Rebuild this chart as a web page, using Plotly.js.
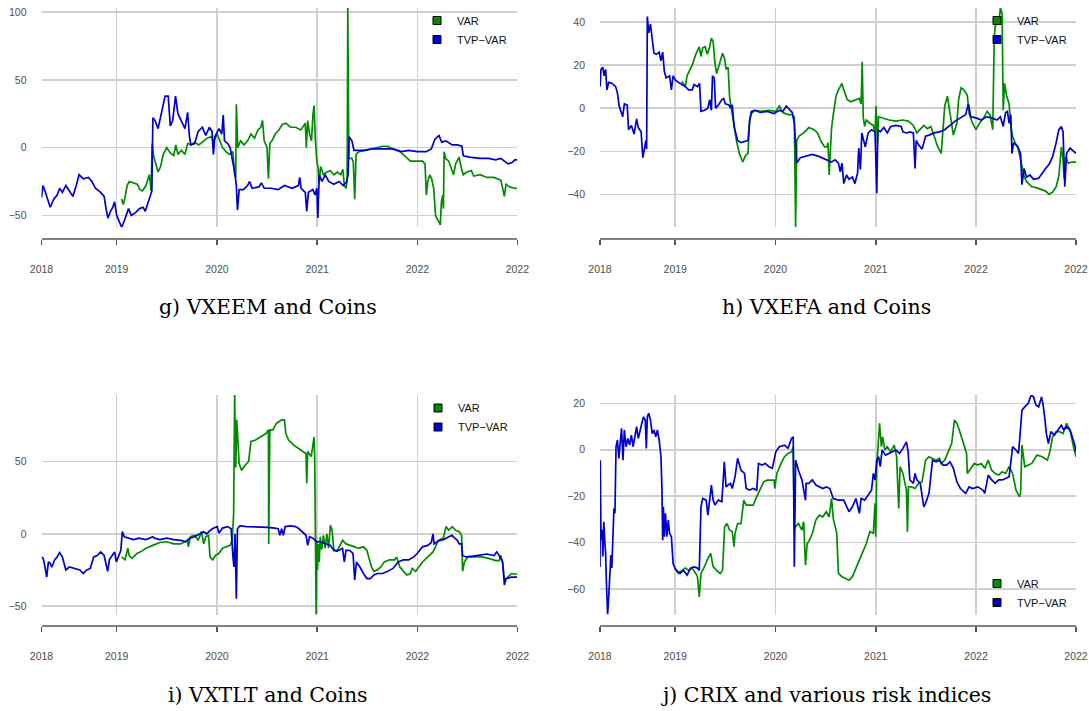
<!DOCTYPE html>
<html><head><meta charset="utf-8">
<script src="https://cdn.plot.ly/plotly-3.0.1.min.js"></script>
<style>html,body{margin:0;padding:0;background:#fff}#chart{width:1089px;height:711px}</style>
</head><body><div id="chart"></div>
<script>
// ---- tick labels / names ----
const xTickYears = [2019, 2020, 2021, 2022];
const xTickLabels = ['2018', '2019', '2020', '2021', '2022', '2022'];
const seriesNames = ['VAR', 'TVP\u2212VAR'];
const captions = ['g) VXEEM and Coins', 'h) VXEFA and Coins', 'i) VXTLT and Coins', 'j) CRIX and various risk indices'];

// ---- data: [decimal year, value] ----
const gTvp = [[2018.250,-37],[2018.264,-28],[2018.285,-32],[2018.313,-38],[2018.337,-44],[2018.372,-38],[2018.406,-35],[2018.431,-30],[2018.458,-33],[2018.493,-28],[2018.528,-32],[2018.563,-36],[2018.597,-28],[2018.625,-20],[2018.667,-23],[2018.719,-22],[2018.753,-25],[2018.788,-30],[2018.840,-33],[2018.875,-36],[2018.896,-46],[2018.913,-52],[2018.938,-47],[2018.962,-44],[2018.979,-40],[2019.000,-50],[2019.028,-55],[2019.049,-58.8],[2019.076,-54],[2019.097,-49],[2019.118,-45],[2019.146,-50],[2019.188,-48],[2019.229,-45],[2019.264,-44],[2019.285,-47],[2019.313,-40],[2019.333,-35],[2019.351,-32],[2019.361,22],[2019.382,20],[2019.413,14],[2019.448,25],[2019.483,38],[2019.514,38],[2019.535,16],[2019.559,20],[2019.587,38],[2019.611,25],[2019.646,20],[2019.681,14],[2019.708,26],[2019.726,8],[2019.740,2],[2019.778,3],[2019.813,12],[2019.854,15],[2019.889,9],[2019.924,15],[2019.951,12],[2019.965,-5],[2019.979,8],[2020.021,14],[2020.049,10],[2020.063,24],[2020.076,5],[2020.108,3],[2020.132,0],[2020.153,-8],[2020.177,-18],[2020.194,-28],[2020.205,-46],[2020.222,-31],[2020.264,-31],[2020.306,-28],[2020.326,-25],[2020.351,-30],[2020.420,-29],[2020.444,-26],[2020.472,-30],[2020.542,-30],[2020.611,-31],[2020.674,-28],[2020.750,-30],[2020.813,-28],[2020.826,-22],[2020.840,-30],[2020.882,-33],[2020.896,-47],[2020.913,-33],[2020.958,-31],[2020.979,-35],[2020.997,-30],[2021.007,-52],[2021.021,-20],[2021.049,-25],[2021.080,-20],[2021.115,-25],[2021.167,-27],[2021.219,-25],[2021.260,-28],[2021.295,-25],[2021.309,-20],[2021.319,8],[2021.347,5],[2021.368,-2],[2021.392,-2],[2021.462,-2],[2021.549,-1],[2021.653,-1],[2021.757,-1],[2021.844,-3],[2021.913,-2],[2022.000,-3],[2022.087,-3],[2022.139,-1],[2022.174,6],[2022.215,9],[2022.243,4],[2022.285,5],[2022.347,2],[2022.399,2],[2022.444,1],[2022.458,-6],[2022.521,-7],[2022.625,-8],[2022.712,-8],[2022.781,-9],[2022.833,-8],[2022.868,-10],[2022.903,-12],[2022.944,-11],[2022.972,-9],[2022.997,-9]];

const gVar = [[2019.049,-38],[2019.066,-42],[2019.083,-37],[2019.104,-28],[2019.125,-25],[2019.170,-26],[2019.205,-27],[2019.233,-31],[2019.257,-32],[2019.292,-28],[2019.326,-20],[2019.344,-32],[2019.354,3],[2019.368,-6],[2019.389,-12],[2019.413,-18],[2019.438,-14],[2019.465,-5],[2019.500,0],[2019.535,-4],[2019.569,-6],[2019.590,2],[2019.611,-5],[2019.646,-2],[2019.681,-5],[2019.708,3],[2019.743,2],[2019.778,4],[2019.819,2],[2019.865,5],[2019.903,7],[2019.938,8],[2019.969,5],[2020.003,10],[2020.028,5],[2020.056,0],[2020.090,-3],[2020.125,-5],[2020.160,-3],[2020.177,-20],[2020.188,-22],[2020.194,32],[2020.208,0],[2020.236,5],[2020.271,2],[2020.306,5],[2020.340,10],[2020.375,7],[2020.410,13],[2020.438,15],[2020.455,20],[2020.472,5],[2020.500,0],[2020.514,-23],[2020.528,3],[2020.549,5],[2020.583,10],[2020.618,13],[2020.653,17],[2020.688,18],[2020.736,15],[2020.785,15],[2020.837,13],[2020.882,18],[2020.892,0],[2020.906,20],[2020.924,10],[2020.944,5],[2020.958,24],[2020.969,31],[2020.983,5],[2020.997,-10],[2021.010,-15],[2021.021,-26],[2021.035,-14],[2021.063,-20],[2021.097,-18],[2021.132,-17],[2021.167,-20],[2021.201,-18],[2021.236,-20],[2021.257,-16],[2021.271,-28],[2021.288,-30],[2021.299,-25],[2021.306,103],[2021.316,-8],[2021.347,-8],[2021.361,-11],[2021.375,-38],[2021.389,-5],[2021.417,-3],[2021.479,-2],[2021.583,0],[2021.653,1],[2021.705,1],[2021.757,-1],[2021.826,-3],[2021.868,-6],[2021.931,-10],[2022.000,-10],[2022.052,-10],[2022.076,-12],[2022.090,-35],[2022.104,-25],[2022.125,-20],[2022.142,-23],[2022.163,-30],[2022.181,-50],[2022.205,-54],[2022.229,-57],[2022.240,-40],[2022.253,-35],[2022.260,-45],[2022.267,-3],[2022.281,-8],[2022.313,-10],[2022.337,-15],[2022.361,-20],[2022.382,-12],[2022.417,-7],[2022.438,-15],[2022.458,-20],[2022.493,-18],[2022.538,-17],[2022.563,-21],[2022.625,-20],[2022.694,-22],[2022.764,-22],[2022.833,-24],[2022.851,-30],[2022.868,-36],[2022.885,-27],[2022.920,-29],[2022.972,-30],[2022.997,-30]];

const hTvp = [[2018.250,10],[2018.260,18],[2018.278,19],[2018.292,15],[2018.306,18],[2018.319,8.5],[2018.337,12],[2018.372,11.5],[2018.406,10],[2018.424,7],[2018.441,1],[2018.458,-1],[2018.476,-4],[2018.493,2],[2018.521,1.5],[2018.535,-10],[2018.563,-8],[2018.590,-12],[2018.615,-5],[2018.632,-9],[2018.660,-11],[2018.677,-23],[2018.694,-18],[2018.708,-15],[2018.715,-19],[2018.722,42.5],[2018.736,35],[2018.753,39],[2018.771,32],[2018.788,25.5],[2018.813,25],[2018.840,26],[2018.858,22],[2018.875,26],[2018.892,17],[2018.910,14],[2018.944,15],[2018.962,8.5],[2018.979,15],[2019.003,13],[2019.031,12],[2019.066,11],[2019.101,10],[2019.135,8.5],[2019.170,8.5],[2019.188,11],[2019.222,10],[2019.243,11.5],[2019.257,-1.5],[2019.292,-1],[2019.326,0],[2019.344,4],[2019.361,-1],[2019.372,15],[2019.389,14],[2019.403,0],[2019.431,1.5],[2019.465,4],[2019.483,4.5],[2019.500,2],[2019.535,1.5],[2019.552,0],[2019.569,1.5],[2019.587,-8.5],[2019.604,-11.5],[2019.622,-15],[2019.656,-16],[2019.691,-15.5],[2019.726,-15],[2019.743,-5.5],[2019.760,-1.5],[2019.795,-1],[2019.847,-2],[2019.917,-1.5],[2019.986,-2.5],[2020.038,-1],[2020.073,-1.5],[2020.108,1],[2020.142,-1],[2020.167,-2],[2020.188,-7],[2020.212,-25.5],[2020.247,-23],[2020.299,-22.5],[2020.368,-21.5],[2020.438,-22.5],[2020.507,-24],[2020.559,-25],[2020.594,-24],[2020.628,-25.5],[2020.646,-29.5],[2020.663,-25.5],[2020.681,-35],[2020.708,-31],[2020.733,-33],[2020.767,-32],[2020.792,-35],[2020.819,-30],[2020.830,-18.5],[2020.847,-28.5],[2020.861,-11.5],[2020.878,-15],[2020.896,-18],[2020.924,-11.5],[2020.958,-10],[2020.993,-11],[2021.010,-39.5],[2021.021,-10],[2021.045,-11],[2021.080,-9],[2021.115,-11.5],[2021.149,-8.5],[2021.201,-8],[2021.253,-8.5],[2021.271,-11],[2021.306,-11.5],[2021.340,-11],[2021.375,-11.5],[2021.392,-28],[2021.403,-15],[2021.427,-17],[2021.462,-19],[2021.497,-13],[2021.531,-12.5],[2021.583,-11.5],[2021.635,-11],[2021.688,-10],[2021.740,-8],[2021.792,-6],[2021.844,-4.5],[2021.896,-3],[2021.924,2],[2021.948,-4],[2022.000,-4.5],[2022.052,-5.5],[2022.104,-4],[2022.156,-4.5],[2022.208,-5.5],[2022.243,-4],[2022.271,-8.5],[2022.295,-2],[2022.313,-1.5],[2022.330,-7],[2022.347,-3],[2022.358,-21],[2022.375,-16],[2022.417,-18],[2022.444,-21],[2022.458,-35.5],[2022.479,-28],[2022.503,-32],[2022.538,-31],[2022.573,-33],[2022.625,-32.5],[2022.660,-30],[2022.694,-28],[2022.729,-26],[2022.764,-22.5],[2022.799,-16],[2022.826,-10],[2022.851,-8.5],[2022.868,-11],[2022.885,-36.5],[2022.903,-21],[2022.938,-18.5],[2022.972,-20],[2022.997,-21]];

const hVar = [[2019.066,12.5],[2019.083,11],[2019.101,10],[2019.118,15],[2019.146,18],[2019.170,20],[2019.205,25],[2019.240,28.5],[2019.257,24],[2019.274,28],[2019.299,28.5],[2019.319,25],[2019.344,28.5],[2019.361,32.5],[2019.378,31],[2019.396,21],[2019.413,16],[2019.448,21],[2019.472,25.5],[2019.493,23],[2019.507,18],[2019.528,19],[2019.542,5.5],[2019.563,-1],[2019.587,-8.5],[2019.611,-15],[2019.639,-21],[2019.674,-25],[2019.701,-22],[2019.726,-21],[2019.743,-5.5],[2019.760,-2.5],[2019.795,-1],[2019.865,-1.5],[2019.934,-1],[2020.003,-1.5],[2020.038,1],[2020.073,-2],[2020.125,-3],[2020.167,-3],[2020.188,-4],[2020.201,-55.3],[2020.212,-15],[2020.236,-13],[2020.281,-11.5],[2020.333,-9],[2020.385,-10],[2020.420,-11.5],[2020.455,-15.5],[2020.490,-18],[2020.514,-18],[2020.524,-16],[2020.535,-31],[2020.549,-13],[2020.559,-9.5],[2020.576,-3],[2020.604,5.5],[2020.628,8.5],[2020.663,11.5],[2020.681,8.5],[2020.715,4],[2020.750,3],[2020.802,4],[2020.837,4.5],[2020.854,2],[2020.865,21.5],[2020.875,-4],[2020.889,-8.5],[2020.906,-5.5],[2020.941,-7],[2020.976,-8],[2020.993,-11.5],[2021.003,1],[2021.017,-16],[2021.028,-4],[2021.063,-4.5],[2021.132,-5.5],[2021.201,-6],[2021.271,-5.5],[2021.323,-6],[2021.375,-8],[2021.410,-11.5],[2021.444,-10],[2021.479,-8],[2021.514,-9.5],[2021.549,-8.5],[2021.583,-13],[2021.618,-18],[2021.653,-21],[2021.670,-10],[2021.688,1],[2021.715,5.5],[2021.740,-1.5],[2021.757,-7],[2021.774,-12.5],[2021.809,-7],[2021.826,4],[2021.851,9.5],[2021.878,8.5],[2021.913,6],[2021.931,-2.5],[2021.965,-7],[2022.000,-10],[2022.035,-7],[2022.076,-4.5],[2022.111,-1.5],[2022.139,-3],[2022.167,-10],[2022.181,32],[2022.191,38],[2022.208,39.5],[2022.229,40],[2022.243,46.5],[2022.260,44],[2022.271,-1],[2022.285,11.5],[2022.306,5.5],[2022.330,2],[2022.347,-8.5],[2022.365,-13],[2022.389,-16],[2022.417,-18],[2022.451,-25.5],[2022.479,-31.5],[2022.503,-34],[2022.556,-36.5],[2022.608,-37],[2022.660,-38],[2022.694,-38.5],[2022.729,-40],[2022.764,-39],[2022.799,-36.5],[2022.826,-31.5],[2022.851,-18],[2022.868,-24],[2022.878,-32.5],[2022.892,-22.5],[2022.920,-25.5],[2022.955,-25],[2022.997,-25]];

const iTvp = [[2018.250,-16],[2018.267,-17],[2018.285,-23],[2018.302,-30],[2018.319,-19.5],[2018.337,-20.5],[2018.354,-23],[2018.382,-18],[2018.406,-16],[2018.431,-13],[2018.458,-16],[2018.493,-25],[2018.528,-23],[2018.580,-24],[2018.632,-25],[2018.667,-27.5],[2018.701,-25],[2018.736,-24],[2018.771,-16],[2018.806,-15],[2018.840,-12.5],[2018.875,-15],[2018.892,-19.5],[2018.910,-26],[2018.927,-18],[2018.951,-15],[2018.979,-12.5],[2018.997,-19.5],[2019.021,-15],[2019.042,-11.5],[2019.056,1.5],[2019.076,-2],[2019.118,-3],[2019.170,-4],[2019.222,-3],[2019.292,-4],[2019.361,-2],[2019.378,-3],[2019.431,-4],[2019.500,-3],[2019.569,-4],[2019.639,-4.5],[2019.691,-5.5],[2019.726,-3],[2019.778,-2],[2019.830,0],[2019.865,1.5],[2019.899,0],[2019.934,2.5],[2019.969,4],[2020.003,5],[2020.021,0.5],[2020.056,4],[2020.108,5],[2020.142,3.5],[2020.160,-16],[2020.170,-23],[2020.181,0],[2020.194,-45],[2020.205,3.5],[2020.229,5.5],[2020.299,5],[2020.403,5],[2020.507,4.5],[2020.576,4],[2020.611,3.5],[2020.628,-1],[2020.646,3.5],[2020.663,-1],[2020.681,5],[2020.733,5.5],[2020.785,5],[2020.819,3.5],[2020.854,1.5],[2020.889,-1],[2020.906,-8],[2020.924,-2],[2020.958,-3],[2020.993,-5.5],[2021.028,-5.5],[2021.080,-6.5],[2021.132,-8],[2021.167,-11.5],[2021.201,-12],[2021.253,-10],[2021.271,-19.5],[2021.288,-11.5],[2021.323,-11.5],[2021.358,-13.5],[2021.375,-32],[2021.392,-19.5],[2021.427,-23],[2021.462,-27.5],[2021.497,-31],[2021.531,-31],[2021.566,-28.5],[2021.601,-27.5],[2021.653,-27.5],[2021.705,-26],[2021.757,-24],[2021.809,-19.5],[2021.861,-18],[2021.913,-18],[2021.965,-16],[2022.000,-13.5],[2022.052,-9],[2022.104,-8],[2022.139,-6],[2022.156,0],[2022.167,-7],[2022.208,-5],[2022.260,-4],[2022.313,-2],[2022.347,-1],[2022.365,-2.5],[2022.399,-4.5],[2022.417,-7],[2022.441,-7],[2022.451,-15],[2022.486,-16],[2022.556,-15.5],[2022.625,-15],[2022.694,-14],[2022.764,-15],[2022.792,-12.5],[2022.816,-15],[2022.851,-19.5],[2022.868,-35.5],[2022.885,-31],[2022.938,-30],[2022.997,-30]];

const iVar = [[2019.049,-16],[2019.083,-18],[2019.111,-10],[2019.125,-15],[2019.153,-17],[2019.205,-13.5],[2019.240,-12.5],[2019.292,-10],[2019.361,-8],[2019.431,-6],[2019.500,-5.5],[2019.569,-7],[2019.639,-7],[2019.708,-4.5],[2019.715,-9],[2019.736,-2],[2019.778,-1],[2019.813,-4.5],[2019.847,1.5],[2019.868,-7],[2019.889,-2],[2019.917,-1],[2019.931,-16],[2019.958,-18],[2019.986,-15],[2020.021,-13.5],[2020.056,-10],[2020.090,-9],[2020.132,-8],[2020.153,-4.5],[2020.167,14],[2020.177,96.2],[2020.188,46],[2020.198,79],[2020.212,60],[2020.222,48.5],[2020.247,44],[2020.281,47.5],[2020.316,50],[2020.340,64],[2020.385,65],[2020.438,67],[2020.490,69.5],[2020.514,72],[2020.517,-7],[2020.528,72],[2020.559,72],[2020.594,76.5],[2020.646,79],[2020.674,79],[2020.688,69.5],[2020.715,65],[2020.767,61.5],[2020.819,59],[2020.854,57],[2020.889,55.5],[2020.896,35],[2020.906,57],[2020.941,53.5],[2020.958,62.5],[2020.969,67],[2020.976,52],[2020.983,2.5],[2020.990,-55.9],[2020.997,-4.5],[2021.003,-25],[2021.014,-7],[2021.021,-19.5],[2021.031,-2],[2021.045,-11],[2021.063,-1],[2021.080,-10],[2021.097,0],[2021.115,-10],[2021.132,6],[2021.149,2.5],[2021.167,-11.5],[2021.201,-11.5],[2021.236,-7],[2021.253,-4.5],[2021.288,-7],[2021.340,-8],[2021.375,-9],[2021.410,-10],[2021.462,-9],[2021.497,-11.5],[2021.514,-16],[2021.542,-23],[2021.566,-26],[2021.601,-25],[2021.635,-23],[2021.670,-19.5],[2021.722,-18],[2021.774,-18],[2021.792,-16],[2021.826,-23],[2021.861,-26],[2021.896,-28.5],[2021.931,-27.5],[2021.948,-24],[2021.983,-26],[2022.017,-23],[2022.052,-19.5],[2022.104,-16],[2022.156,-12.5],[2022.181,-9],[2022.208,-4.5],[2022.260,-3],[2022.285,5],[2022.313,2.5],[2022.347,5],[2022.382,2.5],[2022.417,1.5],[2022.441,-1],[2022.451,-26],[2022.469,-19.5],[2022.503,-16],[2022.573,-16],[2022.642,-16],[2022.712,-17],[2022.781,-18.5],[2022.816,-18.5],[2022.833,-15],[2022.851,-20.5],[2022.868,-32],[2022.903,-30],[2022.938,-27.5],[2022.997,-28]];

const jTvp = [[2018.250,-50.5],[2018.253,-4.5],[2018.260,-39],[2018.271,-34.5],[2018.278,-46],[2018.288,-31],[2018.299,-40.5],[2018.306,-44.5],[2018.313,-56],[2018.319,-67.7],[2018.326,-71],[2018.337,-63.4],[2018.347,-50.5],[2018.358,-45.4],[2018.368,-51],[2018.378,-33],[2018.389,-25.3],[2018.399,-27.4],[2018.410,1.3],[2018.424,4.2],[2018.438,-3.7],[2018.451,2.7],[2018.465,9.2],[2018.479,-4.5],[2018.493,8.5],[2018.510,1.3],[2018.528,4.9],[2018.545,2],[2018.563,6.3],[2018.580,1.3],[2018.597,6.3],[2018.615,10],[2018.632,4.9],[2018.649,8.5],[2018.667,11.4],[2018.684,14.2],[2018.701,12.8],[2018.712,0.6],[2018.722,14.2],[2018.736,15.7],[2018.753,12.8],[2018.771,7],[2018.788,8.5],[2018.806,5.6],[2018.823,8.5],[2018.840,4.2],[2018.858,-3],[2018.868,-17.4],[2018.875,-39],[2018.882,-24.6],[2018.892,-37.5],[2018.903,-27.4],[2018.917,-37.5],[2018.931,-30.3],[2018.944,-36],[2018.962,-37.5],[2018.979,-49],[2018.997,-51],[2019.014,-52],[2019.049,-53.3],[2019.083,-52],[2019.118,-54],[2019.153,-51],[2019.188,-50.5],[2019.222,-51],[2019.240,-52],[2019.257,-24.6],[2019.274,-21],[2019.309,-21.7],[2019.326,-28.2],[2019.347,-19.5],[2019.361,-15.2],[2019.378,-21.7],[2019.396,-23.8],[2019.431,-21.7],[2019.465,-22.4],[2019.490,-5.2],[2019.507,-16],[2019.528,-15.2],[2019.552,-14.5],[2019.569,-16.7],[2019.597,-11.6],[2019.622,-3.7],[2019.656,-8.8],[2019.691,-10.2],[2019.708,-16.7],[2019.743,-17.4],[2019.778,-16.7],[2019.813,-17.4],[2019.830,-5.9],[2019.865,-6.6],[2019.899,-5.9],[2019.934,-7.3],[2019.969,-8],[2020.003,-0.9],[2020.038,1.3],[2020.090,2],[2020.125,0.6],[2020.160,4.9],[2020.177,5.6],[2020.188,-50.4],[2020.201,-4.5],[2020.229,-8.8],[2020.264,-13],[2020.299,-21.7],[2020.306,-14.5],[2020.333,-14.5],[2020.368,-13],[2020.403,-15.2],[2020.438,-16],[2020.472,-16.7],[2020.507,-16],[2020.542,-16.7],[2020.576,-21],[2020.628,-21.7],[2020.681,-21.7],[2020.733,-26.7],[2020.767,-24.6],[2020.802,-21],[2020.837,-27.4],[2020.854,-21],[2020.889,-21.7],[2020.924,-19.5],[2020.958,-17.4],[2020.976,-10.2],[2020.993,-13],[2021.010,-4.5],[2021.028,-3],[2021.045,-7.3],[2021.063,-0.1],[2021.097,-2.3],[2021.132,-1.6],[2021.167,-0.9],[2021.201,-0.1],[2021.236,-1.6],[2021.271,0.6],[2021.306,3.4],[2021.323,-0.9],[2021.340,-13],[2021.375,-14.5],[2021.392,-10.2],[2021.410,-13],[2021.444,-14.5],[2021.479,-24.6],[2021.497,-23],[2021.531,-18.8],[2021.566,-4.5],[2021.601,-5.2],[2021.635,-4.5],[2021.670,-6.6],[2021.705,-6.6],[2021.740,-5.2],[2021.774,-8],[2021.809,-13.8],[2021.844,-16.7],[2021.896,-18.8],[2021.931,-16],[2021.965,-16.7],[2022.017,-16],[2022.069,-17.4],[2022.087,-18.8],[2022.122,-10.9],[2022.156,-13],[2022.191,-14.5],[2022.226,-13],[2022.260,-13],[2022.295,-12.4],[2022.330,-11.6],[2022.365,1.3],[2022.399,-0.1],[2022.424,-1.6],[2022.444,8.5],[2022.458,17.1],[2022.486,18.5],[2022.521,20],[2022.549,23.6],[2022.573,22.8],[2022.597,19.3],[2022.625,18.5],[2022.653,22.8],[2022.667,20],[2022.688,12.8],[2022.701,7],[2022.722,2.7],[2022.747,7.8],[2022.781,6.3],[2022.816,8.5],[2022.851,10.6],[2022.875,8.5],[2022.903,9.9],[2022.938,8.5],[2022.965,4.9],[2022.985,2],[2022.997,-0.9]];

const jVar = [[2018.997,-51],[2019.031,-53.3],[2019.066,-52],[2019.101,-51],[2019.135,-52],[2019.170,-51],[2019.205,-53.3],[2019.222,-54.7],[2019.240,-63.4],[2019.257,-53.3],[2019.292,-50.4],[2019.326,-46.8],[2019.354,-44.7],[2019.378,-50.4],[2019.413,-52],[2019.448,-53.3],[2019.472,-52],[2019.493,-33.2],[2019.517,-31.8],[2019.542,-34.6],[2019.569,-35.3],[2019.587,-41.8],[2019.597,-36],[2019.622,-31.8],[2019.656,-31.8],[2019.684,-21.7],[2019.708,-23.9],[2019.743,-23.9],[2019.778,-23.9],[2019.813,-20.3],[2019.847,-17.4],[2019.882,-13.8],[2019.917,-13.1],[2019.951,-13.1],[2019.986,-13.1],[2019.993,-16.7],[2020.014,-10.2],[2020.056,-5.9],[2020.090,-3],[2020.125,-1.6],[2020.160,-0.9],[2020.177,1.3],[2020.188,-34.6],[2020.201,-33.2],[2020.229,-31.8],[2020.264,-34.6],[2020.281,-31],[2020.299,-49.7],[2020.316,-40.4],[2020.340,-38.9],[2020.368,-36],[2020.403,-30.3],[2020.438,-28.2],[2020.472,-28.9],[2020.507,-26.7],[2020.535,-28.9],[2020.559,-21],[2020.576,-29.6],[2020.611,-36],[2020.628,-53.3],[2020.663,-54.7],[2020.698,-55.5],[2020.733,-56.2],[2020.767,-54.7],[2020.802,-51.1],[2020.837,-48.3],[2020.872,-44.7],[2020.906,-40.4],[2020.941,-35.3],[2020.976,-36],[2020.993,-23.1],[2021.000,-37.5],[2021.010,-7.3],[2021.028,8.5],[2021.038,11.4],[2021.056,1.3],[2021.069,5.6],[2021.090,-0.1],[2021.115,1.3],[2021.149,-0.9],[2021.184,2],[2021.208,-3],[2021.229,-25.3],[2021.243,-7.3],[2021.271,-10.2],[2021.306,-17.4],[2021.316,-35.3],[2021.326,-16],[2021.358,-16],[2021.392,-16.7],[2021.427,-14.5],[2021.462,-13.8],[2021.479,-8.8],[2021.497,-4.5],[2021.531,-3],[2021.566,-3.7],[2021.601,-4.5],[2021.635,-3.7],[2021.653,-5.9],[2021.688,-4.5],[2021.722,-0.9],[2021.757,2.7],[2021.785,12.8],[2021.809,11.4],[2021.833,8.5],[2021.861,4.9],[2021.885,1.3],[2021.906,-1.6],[2021.913,-10.2],[2021.948,-8],[2021.983,-5.9],[2022.017,-6.6],[2022.052,-5.9],[2022.087,-8],[2022.122,-4.5],[2022.156,-8.8],[2022.191,-10.2],[2022.226,-10.9],[2022.260,-9.5],[2022.295,-10.2],[2022.330,-7.3],[2022.365,-10.2],[2022.399,-17.4],[2022.434,-20.3],[2022.444,-18.8],[2022.458,2],[2022.486,-7.3],[2022.521,-6.6],[2022.556,-5.9],[2022.608,-2.3],[2022.660,-3],[2022.712,-4.5],[2022.736,-0.9],[2022.764,5.6],[2022.799,7.8],[2022.833,7.8],[2022.868,7],[2022.903,11.4],[2022.938,8.5],[2022.972,1.3],[2022.997,-3]];

// ---- styling / layout (not data) ----
const GREEN = '#008B00', BLUE = '#0000CD';
const W = 1089, H = 711;
const TICKFONT = {family: 'Liberation Sans, Arial, sans-serif', size: 10.5, color: '#4d4d4d'};
const panels = [
  {varS: gVar, tvpS: gTvp, dtick: 50, xd: [41.5, 517.3], yd: [8, 227.3], axisY: 238.5, leg: {x: 417, yc: 30}, cap: {x: 268, y: 307}},
  {varS: hVar, tvpS: hTvp, dtick: 20, xd: [600, 1076], yd: [8, 227.3], axisY: 238.5, leg: {x: 977, yc: 30}, cap: {x: 826, y: 307}},
  {varS: iVar, tvpS: iTvp, dtick: 50, xd: [41.5, 517.3], yd: [395, 614.5], axisY: 625.5, leg: {x: 418, yc: 417.5}, cap: {x: 268, y: 695}},
  {varS: jVar, tvpS: jTvp, dtick: 20, xd: [600, 1076], yd: [395, 614.5], axisY: 625.5, leg: {x: 977, yc: 593}, cap: {x: 826, y: 695}}
];

const traces = [];
const layout = {
  width: W, height: H, margin: {l: 0, r: 0, t: 0, b: 0},
  paper_bgcolor: '#fff', plot_bgcolor: '#fff', showlegend: true,
  annotations: [], hovermode: false
};

panels.forEach((p, k) => {
  const n = k + 1;
  const xa = n === 1 ? 'x' : 'x' + n, ya = n === 1 ? 'y' : 'y' + n;
  const legName = n === 1 ? 'legend' : 'legend' + n;
  const all = p.varS.concat(p.tvpS);
  const xs = all.map(d => d[0]), ys = all.map(d => d[1]);
  const xmin = Math.min(...xs), xmax = Math.max(...xs);
  const ymin = Math.min(...ys), ymax = Math.max(...ys);

  [[p.varS, GREEN], [p.tvpS, BLUE]].forEach(([s, c]) => {
    traces.push({type: 'scatter', mode: 'lines', x: s.map(d => d[0]), y: s.map(d => d[1]),
      xaxis: xa, yaxis: ya, line: {color: c, width: 1.7}, showlegend: false, hoverinfo: 'skip'});
  });
  [[seriesNames[0], GREEN], [seriesNames[1], BLUE]].forEach(([nm, c]) => {
    traces.push({type: 'scatter', mode: 'markers', x: [null], y: [null], name: nm, xaxis: xa, yaxis: ya,
      legend: legName, showlegend: true,
      marker: {symbol: 'square', size: 8, color: c, line: {color: '#000', width: 1}}});
  });

  layout['xaxis' + (n === 1 ? '' : n)] = {
    domain: [p.xd[0] / W, p.xd[1] / W], anchor: 'free', position: 1 - p.axisY / H,
    range: [xmin, xmax], tickmode: 'array',
    tickvals: [xmin].concat(xTickYears, [xmax]), ticktext: xTickLabels,
    showgrid: true, gridcolor: '#d0d0d0', gridwidth: 1.5, zeroline: false,
    showline: true, linecolor: '#808080', linewidth: 2,
    ticks: 'outside', ticklen: 5, tickwidth: 1.5, tickcolor: '#555',
    ticklabelstandoff: 16, tickfont: TICKFONT, fixedrange: true
  };
  layout['yaxis' + (n === 1 ? '' : n)] = {
    domain: [1 - p.yd[1] / H, 1 - p.yd[0] / H], anchor: xa,
    range: [ymin, ymax], tickmode: 'linear', tick0: 0, dtick: p.dtick,
    showgrid: true, gridcolor: '#d0d0d0', gridwidth: 1.5, zeroline: false,
    showline: false, ticks: '', ticklabelstandoff: 14, tickfont: TICKFONT, fixedrange: true
  };
  layout[legName] = {
    x: p.leg.x / W, xanchor: 'left', y: 1 - p.leg.yc / H, yanchor: 'middle',
    bgcolor: 'rgba(0,0,0,0)', borderwidth: 0, traceorder: 'normal',
    font: {family: 'Liberation Sans, Arial, sans-serif', size: 11, color: '#111'}
  };
  layout.annotations.push({
    text: captions[k], xref: 'paper', yref: 'paper', x: p.cap.x / W, y: 1 - p.cap.y / H,
    xanchor: 'center', yanchor: 'middle', showarrow: false,
    font: {family: 'DejaVu Serif, serif', size: 20.5, color: '#000'}
  });
});

Plotly.newPlot('chart', traces, layout, {staticPlot: true, displayModeBar: false});
</script>
</body></html>
